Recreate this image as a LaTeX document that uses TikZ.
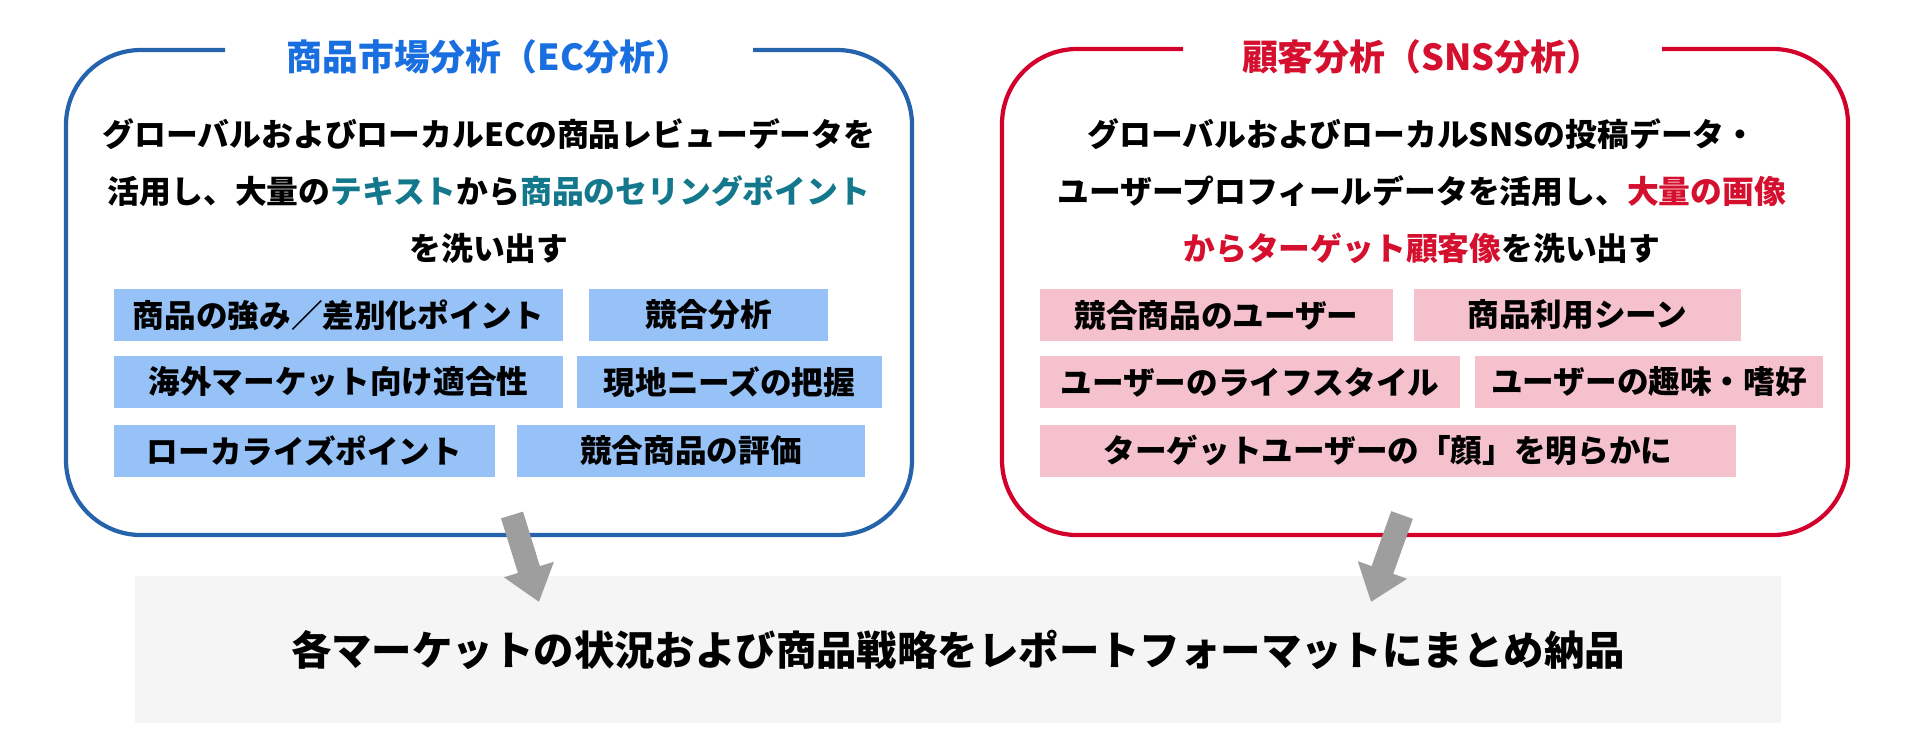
\documentclass[tikz,border=0pt]{standalone}
\usepackage{fontspec}
\setmainfont{Noto Sans CJK JP}
\usepackage{tikz}
\usepackage{xcolor}
\usetikzlibrary{arrows.meta}

\definecolor{ecline}{HTML}{2563AD}
\definecolor{ectitle}{HTML}{1A6FE0}
\definecolor{ecteal}{HTML}{14788C}
\definecolor{ecfill}{HTML}{96C2F7}
\definecolor{snsline}{HTML}{D2002A}
\definecolor{snsred}{HTML}{D4102E}
\definecolor{snsfill}{HTML}{F4C1CC}
\definecolor{reportfill}{HTML}{F5F5F5}
\definecolor{arrowgray}{HTML}{9E9E9E}

\tikzset{
  frame/.style={line width=1.2pt, rounded corners=7.5mm},
  tagbox/.style={minimum height=0.52cm, inner sep=0pt, font=\bfseries\fontsize{9}{9}\selectfont},
  ectag/.style={tagbox, fill=ecfill},
  snstag/.style={tagbox, fill=snsfill},
  bodytext/.style={align=center, font=\bfseries\fontsize{9.05}{16.2}\selectfont},
  titletext/.style={font=\bfseries\fontsize{10.2}{10.2}\selectfont},
  flow/.style={draw=arrowgray, line width=2.3mm, -{Triangle[width=5mm,length=3.4mm]}}
}

\begin{document}
\begin{tikzpicture}[x=1cm,y=1cm]
\useasboundingbox (0,0) rectangle (19.2,-7.5);

\draw[frame, ecline] (2.25,-0.50) -- (0.66,-0.50) -- (0.66,-5.35) -- (9.12,-5.35) -- (9.12,-0.50) -- (7.53,-0.50);
\node[titletext, text=ectitle] (ectitle) at (4.89,-0.57) {商品市場分析（EC分析）};
\node[bodytext] (ecbody) at (4.89,-1.91) {グローバルおよびローカルECの商品レビューデータを\\活用し、大量の\textcolor{ecteal}{テキスト}から\textcolor{ecteal}{商品のセリングポイント}\\を洗い出す};
\node[ectag, minimum width=4.49cm] (ecstrength) at (3.385,-3.15) {商品の強み／差別化ポイント};
\node[ectag, minimum width=2.39cm] (eccompete) at (7.085,-3.15) {競合分析};
\node[ectag, minimum width=4.49cm] (ecfit) at (3.385,-3.82) {海外マーケット向け適合性};
\node[ectag, minimum width=3.05cm] (ecneeds) at (7.295,-3.82) {現地ニーズの把握};
\node[ectag, minimum width=3.81cm] (eclocal) at (3.045,-4.505) {ローカライズポイント};
\node[ectag, minimum width=3.48cm] (ecrating) at (6.91,-4.505) {競合商品の評価};

\draw[frame, snsline] (11.83,-0.49) -- (10.02,-0.49) -- (10.02,-5.35) -- (18.48,-5.35) -- (18.48,-0.49) -- (16.62,-0.49);
\node[titletext, text=snsred] (snstitle) at (14.22,-0.57) {顧客分析（SNS分析）};
\node[bodytext] (snsbody) at (14.22,-1.91) {グローバルおよびローカルSNSの投稿データ・\\ユーザープロフィールデータを活用し、\textcolor{snsred}{大量の画像}\\\textcolor{snsred}{からターゲット顧客像}を洗い出す};
\node[snstag, minimum width=3.53cm] (snsusers) at (12.165,-3.15) {競合商品のユーザー};
\node[snstag, minimum width=3.27cm] (snsscene) at (15.775,-3.15) {商品利用シーン};
\node[snstag, minimum width=4.20cm] (snsstyle) at (12.50,-3.82) {ユーザーのライフスタイル};
\node[snstag, minimum width=3.48cm] (snshobby) at (16.49,-3.82) {ユーザーの趣味・嗜好};
\node[snstag, minimum width=6.96cm] (snsface) at (13.88,-4.505) {ターゲットユーザーの「顔」を明らかに};

\node[fill=reportfill, minimum width=16.46cm, minimum height=1.47cm, inner sep=0pt,
      font=\bfseries\fontsize{11.5}{11.5}\selectfont] (report) at (9.58,-6.495) {各マーケットの状況および商品戦略をレポートフォーマットにまとめ納品};

\coordinate (ecfrom) at (5.12,-5.15);
\coordinate (ecto) at (5.39,-6.02);
\coordinate (snsfrom) at (14.02,-5.15);
\coordinate (snsto) at (13.71,-6.02);
\draw[flow] (ecfrom) -- (ecto);
\draw[flow] (snsfrom) -- (snsto);
\end{tikzpicture}
\end{document}
